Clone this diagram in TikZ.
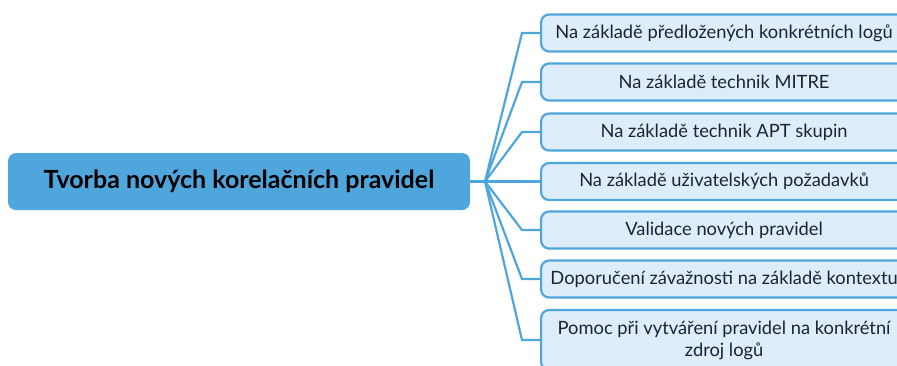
\documentclass[tikz,border=0pt]{standalone}
\usepackage{fontspec}
\setmainfont{Lato}
\definecolor{mapblue}{RGB}{79,166,220}
\definecolor{leafblue}{RGB}{221,237,249}
\definecolor{leaftext}{RGB}{30,35,50}
\tikzset{
  rootbox/.style={fill=mapblue, rounded corners=8pt, minimum width=462pt, minimum height=57pt,
    font=\fontsize{25}{30}\selectfont\bfseries},
  leafbox/.style={draw=mapblue, line width=2.2pt, fill=leafblue, rounded corners=8pt,
    minimum width=366pt, minimum height=37pt, text=leaftext, align=center, anchor=west,
    font=\fontsize{18.3}{22}\selectfont},
  branch/.style={draw=mapblue, line width=2.2pt},
}
\begin{document}
\begin{tikzpicture}[x=1pt,y=-1pt]
  \useasboundingbox (0,0) rectangle (897,365);
  \clip (0,0) rectangle (897,365);
  % root and hub
  \node[rootbox] (root) at (239,181.5) {Tvorba nových korelačních pravidel};
  \coordinate (hub) at (485,181.5);
  % leaves
  \node[leafbox] (l1) at (540,33) {Na základě předložených konkrétních logů};
  \node[leafbox] (l2) at (540,82) {Na základě technik MITRE};
  \node[leafbox] (l3) at (540,132) {Na základě technik APT skupin};
  \node[leafbox] (l4) at (540,181.5) {Na základě uživatelských požadavků};
  \node[leafbox] (l5) at (540,230) {Validace nových pravidel};
  \node[leafbox] (l6) at (540,279) {Doporučení závažnosti na základě kontextu};
  \node[leafbox, minimum height=60pt] (l7) at (540,340) {Pomoc při vytváření pravidel na konkrétní\\zdroj logů};
  % branches
  \draw[branch] (root.east) -- (hub);
  \draw[branch] (hub) -- ([xshift=-18pt]l1.west) -- (l1.west);
  \draw[branch] (hub) -- ([xshift=-18pt]l2.west) -- (l2.west);
  \draw[branch] (hub) -- ([xshift=-18pt]l3.west) -- (l3.west);
  \draw[branch] (hub) -- (l4.west);
  \draw[branch] (hub) -- ([xshift=-18pt]l5.west) -- (l5.west);
  \draw[branch] (hub) -- ([xshift=-18pt]l6.west) -- (l6.west);
  \draw[branch] (hub) -- ([xshift=-18pt]l7.west) -- (l7.west);
\end{tikzpicture}
\end{document}
